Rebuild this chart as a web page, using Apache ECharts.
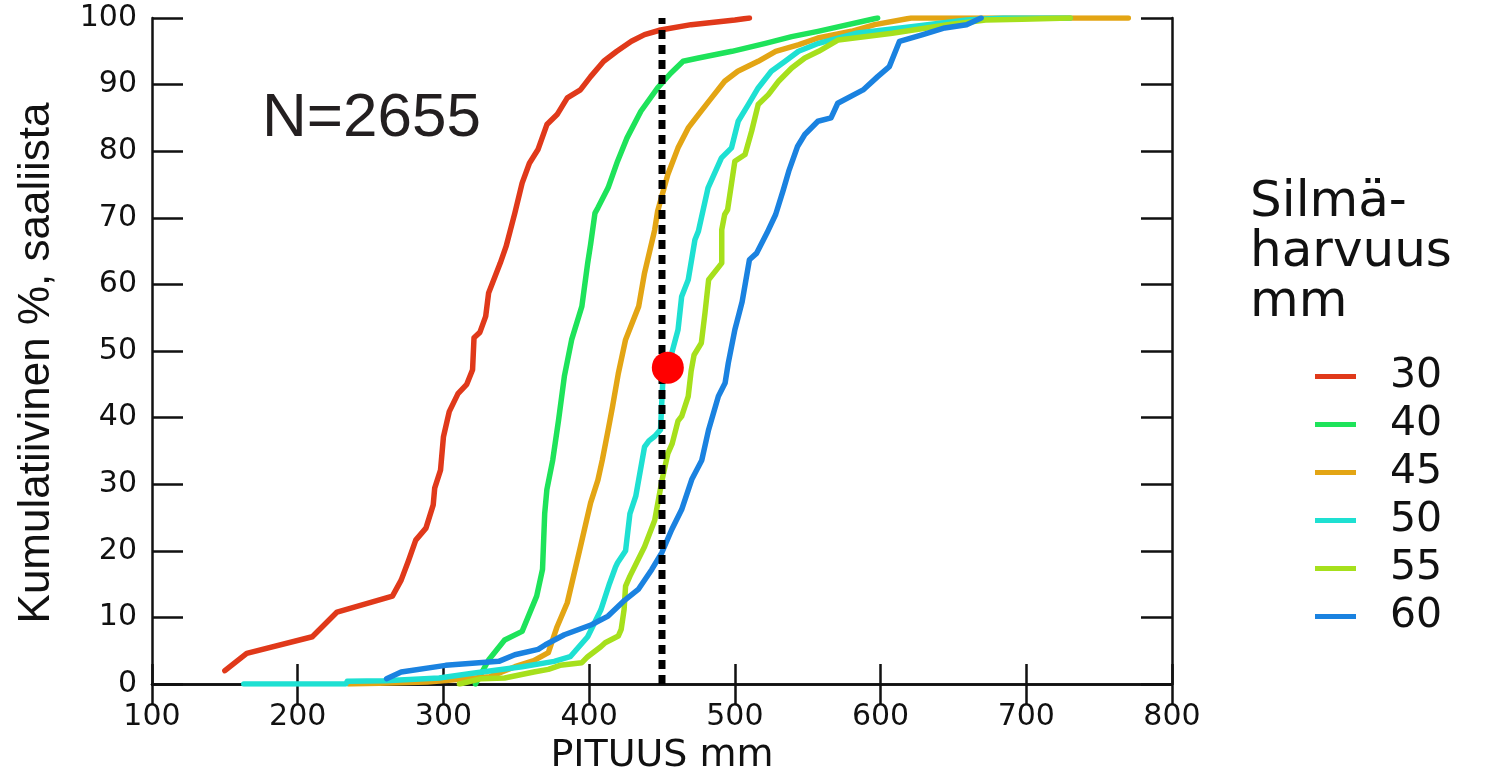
<!DOCTYPE html>
<html>
<head>
<meta charset="utf-8">
<script src="https://cdn.jsdelivr.net/npm/echarts@6/dist/echarts.min.js"></script>
<style>
html,body{margin:0;padding:0;background:#fff;}
#chart{width:1502px;height:768px;}
</style>
</head>
<body>
<div id="chart"></div>
<script>
// Mesh sizes (legend / series names)
const meshSizes = ['30', '40', '45', '50', '55', '60'];
const seriesColors = ['#e0391a', '#1ee35a', '#e3a514', '#1ee0d2', '#a6e01c', '#1a82e0'];

// Cumulative % by length (mm): [length, cumulative %]
const mesh30 = [[150,2],[165,4.6],[210,7.1],[227,10.8],[265,13.2],[271,15.6],[276,18.5],[281,21.6],[288,23.4],[293,26.9],[294,29.4],[298,32.1],[300,37.1],[304,40.9],[310,43.6],[316,45],[320,47.2],[321,52],[325,52.8],[329,55.2],[331,58.7],[339,63.2],[343,65.7],[349,70.7],[354,75.2],[359,78.2],[365,80.3],[371,84],[378,85.5],[385,88],[394,89.2],[401,91.2],[410,93.5],[419,95],[429,96.5],[438,97.5],[449,98.2],[470,99],[500,99.7],[510,100]];
const mesh40 = [[322,0],[331,3.6],[342,6.6],[354,7.9],[364,13.2],[368,17.2],[369.5,25.6],[371,29.2],[375,33.6],[379,39.6],[383,46.2],[388,51.7],[395,56.7],[399,63.2],[401,66],[404,70.7],[406,71.5],[413,74.5],[419.5,78.5],[426,82],[435.5,86],[447,89.5],[456,91.7],[464.5,93.5],[475,94],[498,95],[521,96.2],[539,97.2],[557,98],[598,100]];
const mesh45 = [[235,0],[256,0.1],[289,0.3],[332,1.1],[349,2.6],[362,3.5],[372,4.7],[378,8.6],[385,12.2],[394,20.6],[401,27.2],[406,30.6],[409,33.6],[413,38.1],[416,41.6],[420,46.6],[425,51.7],[434,56.7],[438,61.7],[445,68.2],[447,71],[454,76.5],[461,80.5],[468,83.5],[475,85.5],[484,88],[493,90.5],[502,92],[516,93.5],[528,95],[544,96],[557,97],[580,98],[596,99],[621,100],[770,100]];
const mesh50 = [[163,0],[233,0],[234,0.4],[260,0.5],[297,0.9],[320,1.6],[354,2.6],[376,3.4],[387,4.1],[399,7.1],[408,11.1],[414,15.1],[418,17.5],[419.5,18.2],[425,20],[428,25.6],[432,28.2],[438,35.6],[441,36.5],[445,37.2],[449,38.2],[450,43],[451,47.2],[456.6,49.6],[461,53.2],[463.5,58.2],[468,60.7],[472.6,66.7],[475,68],[481.6,74.5],[490.8,79],[497.7,80.5],[502.3,84.5],[509.2,87],[516,89.5],[525,92],[534.5,93.5],[543.7,95],[557.5,96.2],[583,97.7],[621,98.7],[659,99.7],[684,100],[730,100]];
const mesh55 = [[311,0],[326,0.8],[342,0.9],[362,1.8],[372,2.2],[380,2.8],[395,3.2],[399,4.1],[408,5.6],[411,6.2],[420,7.2],[422,8.2],[424,11.2],[425,14.7],[428,16.2],[438,20.6],[445,24.6],[450,30.6],[454,34.6],[457,36.1],[461,39.5],[463.5,40.2],[468,43.2],[470,47],[472,49.4],[477,51.2],[479.5,55.7],[482,60.7],[491,63.2],[491,68.2],[493,70.5],[495,71.2],[500,78.5],[507,79.5],[511.5,83],[516,87],[523,88.5],[530,90.5],[539,92.5],[548,94],[557.5,95],[571,96.7],[608,97.7],[646,99],[672,99.7],[697,99.8],[730,100]];
const mesh60 = [[261,0.8],[271,1.8],[301.5,2.8],[338,3.4],[349,4.4],[365,5.2],[370,5.9],[383,7.4],[401.6,8.9],[413,10.2],[424.5,12.6],[433.7,14.2],[443,17.2],[449.8,19.7],[456.7,23.2],[463.5,26.2],[470.4,30.7],[477.3,33.6],[481.9,38.1],[488.7,43.2],[493.3,45.2],[495.5,48.2],[500,53.2],[503,55.7],[505,57.4],[510,63.7],[515,64.7],[522,67.7],[528,70.5],[533,74],[537,77],[543,80.7],[548,82.5],[557,84.5],[566,85],[570.6,87.2],[588,89.2],[598,91.2],[606,92.7],[613,96.5],[629,97.5],[644,98.5],[659,99],[669,100]];
const meshData = [mesh30, mesh40, mesh45, mesh50, mesh55, mesh60];

// Reference line and marked point
const limitLength = 450;
const limitLine = [[limitLength, 0], [limitLength, 100]];
const markedPoint = [[454, 47.5]];

// Axis ranges
const xMin = 100, xMax = 800, xStep = 100;
const yMin = 0, yMax = 100, yStep = 10;

const nText = 'N=2655';
const legendTitle = 'Silmä-\nharvuus\nmm';
const xName = 'PITUUS mm';
const yName = 'Kumulatiivinen %, saaliista';

const axisColor = '#111';
const wideFont = 'DejaVu Sans';
const arialFont = 'Liberation Sans';

const chart = echarts.init(document.getElementById('chart'), null, {renderer: 'canvas'});

const series = meshSizes.map((name, i) => ({
  name: name,
  type: 'line',
  data: meshData[i],
  showSymbol: false,
  symbol: 'none',
  smooth: false,
  lineStyle: {width: 5.5, color: seriesColors[i], cap: 'round', join: 'round'},
  itemStyle: {color: seriesColors[i]},
  z: 2 + i
}));

series.push({
  name: 'raja',
  type: 'line',
  data: limitLine,
  showSymbol: false,
  symbol: 'none',
  lineStyle: {width: 7, color: '#000', type: [9, 6]},
  z: 10
});
series.push({
  name: 'piste',
  type: 'scatter',
  data: markedPoint,
  symbol: 'circle',
  symbolSize: 32,
  itemStyle: {color: '#ff0000', opacity: 1},
  z: 11
});

const option = {
  animation: false,
  backgroundColor: '#fff',
  title: [
    {text: nText, left: 262, top: 88, padding: 0,
     textStyle: {fontSize: 62, fontWeight: 'normal', fontFamily: arialFont, color: '#231f20'}},
    {text: legendTitle, left: 1250, top: 178, padding: 0,
     textStyle: {fontSize: 50, lineHeight: 50, fontWeight: 'normal', fontFamily: wideFont, color: '#111'}}
  ],
  legend: {
    data: meshSizes.map(n => ({name: n, icon: 'rect'})),
    orient: 'vertical',
    left: 1315,
    top: 356,
    itemWidth: 41,
    itemHeight: 5,
    itemGap: 7,
    padding: 0,
    selectedMode: false,
    textStyle: {fontSize: 41, lineHeight: 40, fontFamily: wideFont, color: '#111', padding: [0, 0, 0, 29]}
  },
  grid: {left: 152, right: 330, top: 18, bottom: 84, containLabel: false, outerBoundsMode: 'none'},
  xAxis: [
    {type: 'value', min: xMin, max: xMax, interval: xStep, position: 'bottom',
     name: xName, nameLocation: 'middle', nameGap: 40,
     nameTextStyle: {fontSize: 38, fontFamily: wideFont, color: '#111'},
     axisLine: {show: true, lineStyle: {color: axisColor, width: 2.5}},
     axisTick: {show: true, inside: true, length: 20, lineStyle: {color: axisColor, width: 2.5}},
     axisLabel: {fontSize: 30, fontFamily: wideFont, color: '#111', margin: 18},
     splitLine: {show: false}},
    {type: 'value', min: xMin, max: xMax, interval: xStep, position: 'top',
     axisLine: {show: true, lineStyle: {color: axisColor, width: 2.5}},
     axisTick: {show: true, inside: true, length: 20, lineStyle: {color: axisColor, width: 2.5}},
     axisLabel: {show: false},
     splitLine: {show: false}}
  ],
  yAxis: [
    {type: 'value', min: yMin, max: yMax, interval: yStep, position: 'left',
     name: yName, nameLocation: 'middle', nameGap: 93, nameRotate: 90,
     nameTextStyle: {fontSize: 44, fontFamily: arialFont, color: '#111', padding: [0, 24, 0, 0]},
     axisLine: {show: true, lineStyle: {color: axisColor, width: 2.5}},
     axisTick: {show: true, inside: true, length: 31, lineStyle: {color: axisColor, width: 2.5}},
     axisLabel: {fontSize: 30, fontFamily: wideFont, color: '#111', margin: 15},
     splitLine: {show: false}},
    {type: 'value', min: yMin, max: yMax, interval: yStep, position: 'right',
     axisLine: {show: true, lineStyle: {color: axisColor, width: 2.5}},
     axisTick: {show: true, inside: true, length: 31, lineStyle: {color: axisColor, width: 2.5}},
     axisLabel: {show: false},
     splitLine: {show: false}}
  ],
  series: series
};

chart.setOption(option);
</script>
</body>
</html>
